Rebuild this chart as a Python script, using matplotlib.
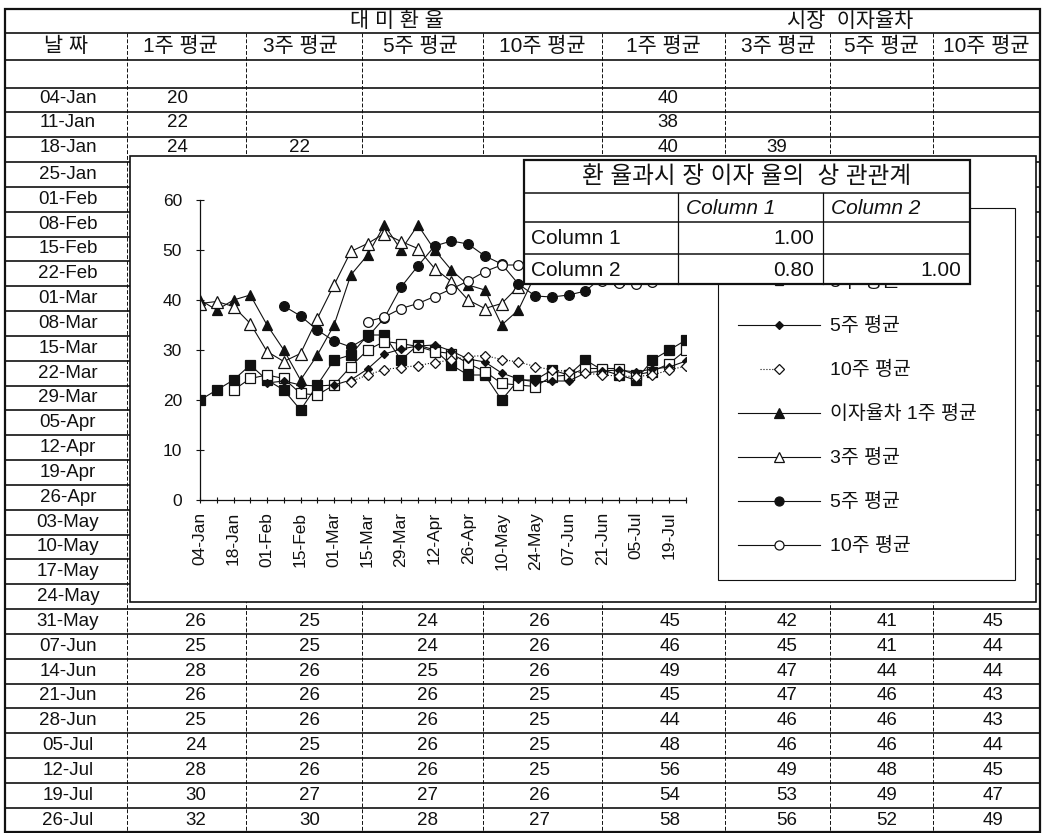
import numpy as np
import matplotlib
matplotlib.use("Agg")
import matplotlib.pyplot as plt
from matplotlib.patches import Rectangle

plt.rcParams['font.family'] = ['Liberation Sans', 'Noto Sans CJK KR']

# ---------------- data ----------------
nan = np.nan
dates = ['04-Jan', '11-Jan', '18-Jan', '25-Jan', '01-Feb', '08-Feb', '15-Feb', '22-Feb',
         '01-Mar', '08-Mar', '15-Mar', '22-Mar', '29-Mar', '05-Apr', '12-Apr', '19-Apr',
         '26-Apr', '03-May', '10-May', '17-May', '24-May', '31-May', '07-Jun', '14-Jun',
         '21-Jun', '28-Jun', '05-Jul', '12-Jul', '19-Jul', '26-Jul']

col_headers = ['날 짜', '1주 평균', '3주 평균', '5주 평균', '10주 평균',
               '1주 평균', '3주 평균', '5주 평균', '10주 평균']
group_headers = ['대 미 환 율', '시장  이자율차']

# table cells visible above the chart (rows 04-Jan .. 18-Jan)
top_rows = [
    [20, None, None, None, 40, None, None, None],
    [22, None, None, None, 38, None, None, None],
    [24, 22, None, None, 40, 39, None, None],
]
# table cells visible below the chart (rows 31-May .. 26-Jul)
bottom_rows = [
    [26, 25, 24, 26, 45, 42, 41, 45],
    [25, 25, 24, 26, 46, 45, 41, 44],
    [28, 26, 25, 26, 49, 47, 44, 44],
    [26, 26, 26, 25, 45, 47, 46, 43],
    [25, 26, 26, 25, 44, 46, 46, 43],
    [24, 25, 26, 25, 48, 46, 46, 44],
    [28, 26, 26, 25, 56, 49, 48, 45],
    [30, 27, 27, 26, 54, 53, 49, 47],
    [32, 30, 28, 27, 58, 56, 52, 49],
]

# chart series (weekly)
fx_1w = [20, 22, 24, 27, 24, 22, 18, 23, 28, 29, 33, 33, 28, 31, 30, 27, 25, 25, 20, 24,
         24, 26, 25, 28, 26, 25, 24, 28, 30, 32]
fx_3w = [nan, nan, 22, 24.3, 25, 24.3, 21.3, 21, 23, 26.7, 30, 31.7, 31.3, 30.7, 29.7, 29.3,
         27.3, 25.7, 23.3, 23, 22.7, 24.7, 25, 26.3, 26.3, 26.3, 25, 25.7, 27.3, 30]
fx_5w = [nan, nan, nan, nan, 23.4, 23.8, 23, 22.8, 23, 24, 26.2, 29.2, 30.2, 30.8, 31, 29.8,
         28.2, 27.6, 25.4, 24.2, 23.6, 23.8, 23.8, 25.4, 25.8, 26, 25.6, 26.2, 26.6, 27.8]
fx_10w = [nan] * 9 + [23.7, 25, 26.1, 26.5, 26.9, 27.5, 28, 28.7, 28.9, 28.1, 27.6, 26.7, 26,
                      25.7, 25.4, 25, 24.8, 24.7, 25, 26, 26.8]
ir_1w = [40, 38, 40, 41, 35, 30, 24, 29, 35, 45, 49, 55, 50, 55, 50, 46, 43, 42, 35, 38,
         45, 45, 46, 49, 45, 44, 48, 56, 54, 58]
ir_3w = [39.3, 39.7, 38.7, 35.3, 29.7, 27.7, 29.3, 36.3, 43, 49.7, 51.3, 53.3, 51.7, 50.3,
         46.3, 43.7, 40, 38.3, 39.3, 42.7, 45.3, 46.7, 46.7, 46, 45.7, 49.3, 52.7, 56, nan, nan]
ir_5w = [nan] * 5 + [38.8, 36.8, 34, 31.8, 30.6, 32.6, 36.4, 42.6, 46.8, 50.8, 51.8, 51.2,
                     48.8, 47.2, 43.2, 40.8, 40.6, 41, 41.8, 44.6, 45.8, 46.4, 46.4, 48.2, 49.4]
ir_10w = [nan] * 10 + [35.7, 36.6, 38.3, 39.3, 40.7, 42.2, 43.8, 45.7, 47, 47, 46.3, 45.9,
                       44.9, 44.5, 43.9, 43.4, 43.2, 43.7, 45.1, 47]

legend_labels = ['1주 평균', '3주 평균', '5주 평균', '10주 평균',
                 '이자율차 1주 평균', '3주 평균', '5주 평균', '10주 평균']

corr_title = '환 율과시 장 이자 율의  상 관관계'
corr_cols = ['Column 1', 'Column 2']
corr_vals = [[1.00, None], [0.80, 1.00]]

# ---------------- figure ----------------
W, H = 1044, 833
fig = plt.figure(figsize=(W / 100, H / 100), dpi=100)
fig.patch.set_facecolor('white')

bg = fig.add_axes([0, 0, 1, 1], zorder=0)
bg.set_xlim(0, W)
bg.set_ylim(H, 0)
bg.axis('off')

INK = '#111111'
FS = 13.5      # dates and numbers
FS_K = 15      # Korean headings

# sheet grid
col_x = [5, 127, 246, 362, 483, 602, 725, 830, 933, 1040]
row_h = 24.83
def yc(i):
    return 100 + row_h * i

h_lines = [33, 60, 87.6] + [yc(i) + row_h / 2 for i in range(29)]
for y in h_lines:
    bg.plot([col_x[0], col_x[-1]], [y, y], color=INK, lw=1.2, zorder=1)
for x in col_x[1:-1]:
    bg.plot([x, x], [33, 832], color=INK, lw=0.7, ls=(0, (4, 2)), zorder=1)
bg.add_patch(Rectangle((col_x[0], 9), col_x[-1] - col_x[0], 823, fill=False,
                       ec=INK, lw=1.6, zorder=1))

bg.text(397, 21, group_headers[0], ha='center', va='center', fontsize=FS_K, color=INK)
bg.text(850, 21, group_headers[1], ha='center', va='center', fontsize=FS_K, color=INK)
hdr_x = [66, 180, 300, 420, 542, 663, 778, 881, 986]
for x, t in zip(hdr_x, col_headers):
    bg.text(x, 46, t, ha='center', va='center', fontsize=FS_K, color=INK)

for i, d in enumerate(dates):
    dy = -2 if i < 3 else 0
    bg.text(68, yc(i) + dy, d, ha='center', va='center', fontsize=FS, color=INK)

top_x = [177, 300, 427, 540, 668, 777, 887, 993]
for i, row in enumerate(top_rows):
    for x, v in zip(top_x, row):
        if v is not None:
            bg.text(x, yc(i) - 2, str(v), ha='center', va='center', fontsize=FS, color=INK)
bot_x = [196, 310, 427, 540, 670, 787, 887, 993]
for k, row in enumerate(bottom_rows):
    i = 21 + k
    for x, v in zip(bot_x, row):
        bg.text(x, yc(i), str(v), ha='center', va='center', fontsize=FS, color=INK)

# embedded chart object
bg.add_patch(Rectangle((130, 156), 906, 446, fc='white', ec=INK, lw=1.2, zorder=3))

# ---------------- line chart ----------------
x0, x1 = 200, 686
y0, y1 = 500, 200
ax = fig.add_axes([x0 / W, 1 - y0 / H, (x1 - x0) / W, (y0 - y1) / H], zorder=1)
ax.patch.set_alpha(0)
weeks = np.arange(len(dates))

styles = [
    dict(marker='s', ms=6.5, mfc=INK, ls='-'),
    dict(marker='s', ms=6.5, mfc='white', ls='-'),
    dict(marker='D', ms=4.5, mfc=INK, ls='-'),
    dict(marker='D', ms=5.5, mfc='white', ls=':'),
    dict(marker='^', ms=7, mfc=INK, ls='-'),
    dict(marker='^', ms=8, mfc='white', ls='-'),
    dict(marker='o', ms=7, mfc=INK, ls='-'),
    dict(marker='o', ms=7, mfc='white', ls='-'),
]
series = [fx_1w, fx_3w, fx_5w, fx_10w, ir_1w, ir_3w, ir_5w, ir_10w]
for vals, st in zip(series, styles):
    ax.plot(weeks, vals, color=INK, lw=0.8, mec=INK, mew=0.9, **st)

ax.set_xlim(0, len(dates) - 1)
ax.set_ylim(0, 60)
ax.set_yticks(range(0, 61, 10))
ax.set_xticks(weeks[::2])
ax.set_xticklabels(dates[::2], rotation=90)
ax.set_xticks(weeks[1::2], minor=True)
for s in ['top', 'right']:
    ax.spines[s].set_visible(False)
for s in ['left', 'bottom']:
    ax.spines[s].set_color(INK)
    ax.spines[s].set_linewidth(0.9)
ax.tick_params(axis='y', direction='inout', length=6, width=0.8, labelsize=12.5, pad=10,
               colors=INK)
ax.tick_params(axis='x', which='both', direction='inout', length=5, width=0.8,
               labelsize=12.5, pad=6, colors=INK)

# legend box
bg.add_patch(Rectangle((718, 208), 297, 372, fc='white', ec=INK, lw=0.8, zorder=4))
for k, (lab, st) in enumerate(zip(legend_labels, styles)):
    y = 237 + 44 * k
    if st['ls'] == ':':
        bg.plot([760, 779], [y, y], color=INK, lw=0.8, ls=':', zorder=5)
    else:
        bg.plot([738, 820], [y, y], color=INK, lw=0.8, zorder=5)
    bg.plot([779], [y], marker=st['marker'], ms=st['ms'] - 0.5, mfc=st['mfc'], mec=INK,
            mew=0.9, ls='none', zorder=6)
    bg.text(830, y + 1, lab, ha='left', va='center', fontsize=14, color=INK, zorder=6)

# ---------------- correlation table ----------------
top = fig.add_axes([0, 0, 1, 1], zorder=2)
top.set_xlim(0, W)
top.set_ylim(H, 0)
top.axis('off')
cx0, cx1, cy0, cy1 = 524, 970, 160, 284
top.add_patch(Rectangle((cx0, cy0), cx1 - cx0, cy1 - cy0, fc='white', ec=INK, lw=1.6))
for y in [193, 222, 254]:
    top.plot([cx0, cx1], [y, y], color=INK, lw=1.1)
for x in [678, 823]:
    top.plot([x, x], [193, cy1], color=INK, lw=0.9)
top.text((cx0 + cx1) / 2, 177, corr_title, ha='center', va='center', fontsize=17, color=INK)
top.text(686, 208, corr_cols[0], ha='left', va='center', fontsize=15, style='italic', color=INK)
top.text(831, 208, corr_cols[1], ha='left', va='center', fontsize=15, style='italic', color=INK)
for r, (name, vals) in enumerate(zip(corr_cols, corr_vals)):
    y = 238 + 32 * r
    top.text(531, y, name, ha='left', va='center', fontsize=15, color=INK)
    for x, v in zip([814, 961], vals):
        if v is not None:
            top.text(x, y, f'{v:.2f}', ha='right', va='center', fontsize=15, color=INK)

fig.savefig('out.png', dpi=100, facecolor='white')
